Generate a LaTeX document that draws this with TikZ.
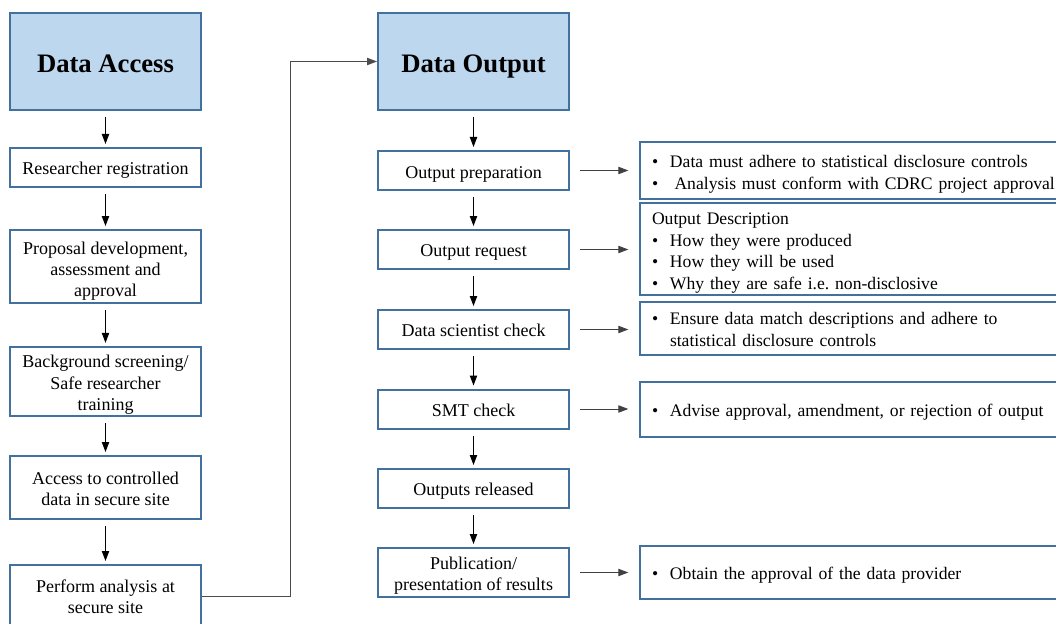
\documentclass[tikz,border=0pt]{standalone}
\usepackage{fontspec}
\setmainfont{Liberation Serif}
\newfontfamily\tnr{Liberation Serif}
\usetikzlibrary{arrows.meta}
\definecolor{boxline}{RGB}{65,113,156}
\definecolor{headfill}{RGB}{189,215,238}
% bullet with a fixed hanging indent
\newcommand{\blt}{\makebox[13.5pt][l]{\textbullet}}
% centred lines, dropped by the given amount (box size unchanged)
\newcommand{\cell}[2]{\raisebox{-#1}[\height][\depth]{\begin{tabular}{@{}c@{}}#2\end{tabular}}}
% left-aligned note lines, dropped by the given amount
\newcommand{\notes}[2]{\raisebox{-#1}[\height][\depth]{\begin{tabular}{@{}l@{}}#2\end{tabular}}}
\hyphenpenalty=10000
\exhyphenpenalty=10000

\begin{document}
\begin{tikzpicture}[x=0.75pt,y=-0.75pt,
  stepbox/.style={draw=boxline, line width=1.5pt, fill=white,
    minimum width=143.25pt, inner sep=2pt, font=\tnr\fontsize{13.5}{16}\selectfont},
  headbox/.style={stepbox, fill=headfill, minimum height=72.75pt,
    font=\tnr\fontsize{20}{24}\selectfont\bfseries},
  notebox/.style={draw=boxline, line width=1.5pt, anchor=west, text width=315pt,
    inner xsep=9pt, inner ysep=2pt, align=left, font=\tnr\fontsize{13.2}{16.25}\selectfont},
  flow/.style={-{Triangle[length=7.5pt,width=5.5pt]}, line width=0.75pt,
    shorten <=4.5pt, shorten >=2.25pt},
  side/.style={-{Triangle[length=7.5pt,width=5.5pt]}, line width=0.75pt, black!75,
    shorten <=7.5pt, shorten >=8pt},
  link/.style={-{Triangle[length=7.5pt,width=5.5pt]}, line width=0.75pt, black!70}
]
\useasboundingbox (0,0) rectangle (1056,624);
\clip (0,0) rectangle (1056,624);

% Data access column
\node[headbox] (da) at (105.5,61.5) {\cell{3.4pt}{Data Access}};
\node[stepbox, minimum height=29.25pt] (rr) at (105.5,167.5) {\cell{2.25pt}{Researcher registration}};
\node[stepbox, minimum height=54.75pt] (pd) at (105.5,266.5) {\cell{3.6pt}{Proposal development,\\assessment and\\approval}};
\node[stepbox, minimum height=51.75pt] (bs) at (105.5,381.5) {\cell{2.6pt}{Background screening/\\Safe researcher\\training}};
\node[stepbox, minimum height=47.25pt] (ac) at (105.5,487.5) {\cell{2.6pt}{Access to controlled\\data in secure site}};
\node[stepbox, minimum height=47.25pt] (pa) at (105.5,596.5) {\cell{1.5pt}{Perform analysis at\\secure site}};

% Data output column
\node[headbox] (do) at (473.5,61.5) {\cell{3.4pt}{Data Output}};
\node[stepbox, minimum height=29.25pt] (op) at (473.5,170.5) {\cell{2.5pt}{Output preparation}};
\node[stepbox, minimum height=29.25pt] (oq) at (473.5,249.5) {\cell{2.25pt}{Output request}};
\node[stepbox, minimum height=29.25pt] (ds) at (473.5,329.5) {\cell{2.25pt}{Data scientist check}};
\node[stepbox, minimum height=29.25pt] (smt) at (473.5,409) {\cell{2.25pt}{SMT check}};
\node[stepbox, minimum height=29.25pt] (rel) at (473.5,488.5) {\cell{2.25pt}{Outputs released}};
\node[stepbox, minimum height=36.75pt] (pub) at (473.5,572.5) {\cell{2.25pt}{Publication/\\presentation of results}};

% Notes beside the output steps
\node[notebox, minimum height=42.75pt] (n1) at (639,170.5)
  {\notes{2.8pt}{\blt Data must adhere to statistical disclosure controls\\
   \blt\hspace{3.4pt}Analysis must conform with CDRC project approval}};
\node[notebox, minimum height=69pt] (n2) at (639,249)
  {\notes{2.8pt}{Output Description\\
   \blt How they were produced\\
   \blt How they will be used\\
   \blt Why they are safe i.e.\ non-disclosive}};
\node[notebox, minimum height=39.75pt] (n3) at (639,328.5)
  {\notes{1.8pt}{\blt Ensure data match descriptions and adhere to\\
   \hspace*{13.5pt}statistical disclosure controls}};
\node[notebox, minimum height=41.25pt] (n4) at (639,409.5)
  {\notes{2.25pt}{\blt Advise approval, amendment, or rejection of output}};
\node[notebox, minimum height=39.75pt] (n5) at (639,572.5)
  {\notes{2.25pt}{\blt Obtain the approval of the data provider}};

% Vertical flow arrows
\foreach \a/\b in {da/rr, rr/pd, pd/bs, bs/ac, ac/pa, do/op, op/oq, oq/ds, ds/smt, smt/rel, rel/pub}
  \draw[flow] (\a) -- (\b);

% Arrows to the notes
\foreach \a/\b in {op/n1, oq/n2, ds/n3, smt/n4, pub/n5}
  \draw[side] (\a.east) -- (\a.east -| \b.west);

% Link from the access column to the output column
\coordinate (turn) at (290,0);
\draw[link] (pa.east) -- (pa.east -| turn) |- (do.west);
\end{tikzpicture}
\end{document}
